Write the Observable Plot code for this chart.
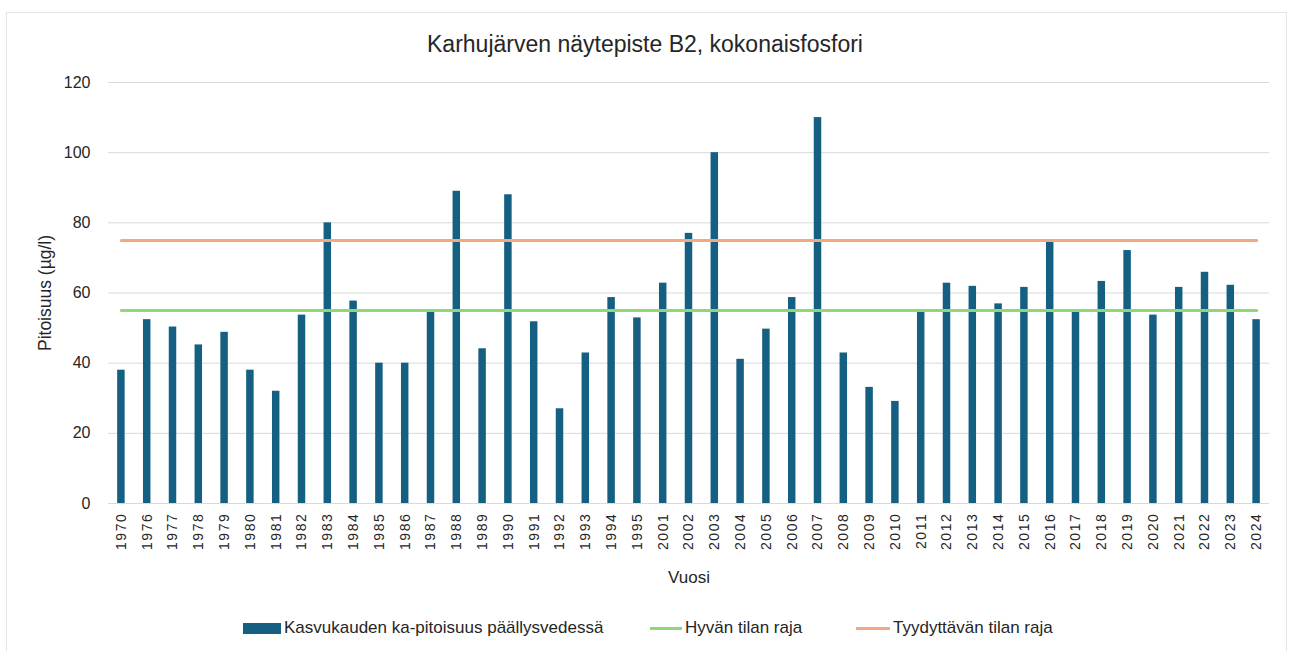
<!DOCTYPE html>
<html>
<head>
<meta charset="utf-8">
<script src="https://cdn.jsdelivr.net/npm/d3@7"></script>
<script src="https://cdn.jsdelivr.net/npm/@observablehq/plot@0.6"></script>
<style>
  html, body { margin: 0; padding: 0; background: #fff; }
  #wrap { position: relative; width: 1290px; height: 651px; overflow: hidden; font-family: "Liberation Sans", Arial, sans-serif; }
  #frame { position: absolute; left: 6px; top: 12px; width: 1281px; height: 660px; border: 1px solid #e6e6e6; box-sizing: border-box; }
  #title { position: absolute; left: 0; width: 1290px; top: 31px; text-align: center; font-size: 23px; color: #262626; }
  #chart { position: absolute; left: 0; top: 65px; }
  #legend { position: absolute; top: 618px; left: 0; width: 1290px; height: 20px; font-family: "Liberation Sans", Arial, sans-serif; font-size: 17px; color: #262626; }
  .item { position: absolute; top: 0; display: flex; align-items: center; height: 20px; white-space: nowrap; }
  .sw { display: inline-block; margin-right: 3px; }
  #chart svg [aria-label="x-axis tick label"] text { letter-spacing: 1.6px; }
</style>
</head>
<body>
<div id="wrap">
  <div id="frame"></div>
  <div id="title"></div>
  <div id="chart"></div>
  <div id="legend"></div>
</div>
<script>
const titleText = "Karhujärven näytepiste B2, kokonaisfosfori";
const yLabel = "Pitoisuus (µg/l)";
const xLabel = "Vuosi";
const years = ["1970","1976","1977","1978","1979","1980","1981","1982","1983","1984","1985","1986","1987","1988","1989","1990","1991","1992","1993","1994","1995","2001","2002","2003","2004","2005","2006","2007","2008","2009","2010","2011","2012","2013","2014","2015","2016","2017","2018","2019","2020","2021","2022","2023","2024"];
const values = [38,52.4,50.3,45.2,48.8,38,32,53.7,80,57.7,40,40,54.8,89,44.1,88,51.8,27,42.9,58.7,52.9,62.8,77,100,41.1,49.7,58.7,110,42.9,33.1,29.1,54.8,62.8,61.9,56.9,61.6,74.4,54.8,63.3,72.1,53.7,61.6,65.9,62.2,52.4];
const goodLimit = 55;
const satisfactoryLimit = 75;
const seriesNames = ["Kasvukauden ka-pitoisuus päällysvedessä", "Hyvän tilan raja", "Tyydyttävän tilan raja"];
const colors = ["#156082", "#8ED973", "#F1A983"];
const yTicks = [0,20,40,60,80,100,120];

document.getElementById("title").textContent = titleText;

const bars = years.map((y, i) => ({year: y, value: values[i]}));
const good = years.map(y => ({year: y, value: goodLimit}));
const sat = years.map(y => ({year: y, value: satisfactoryLimit}));

const chart = Plot.plot({
  width: 1290,
  height: 525,
  marginTop: 17,
  marginBottom: 87,
  marginLeft: 108,
  marginRight: 21,
  style: {fontFamily: "'Liberation Sans', Arial, sans-serif", color: "#262626", background: "transparent"},
  x: {type: "band", domain: years, paddingInner: 0.71, paddingOuter: 0.355},
  y: {domain: [0, 120]},
  marks: [
    Plot.gridY(yTicks, {stroke: "#d9d9d9", strokeOpacity: 1, strokeWidth: 1}),
    Plot.axisY(yTicks, {tickSize: 0, tickPadding: 18, fontSize: 16, label: yLabel, labelAnchor: "center", labelOffset: 70, labelArrow: "none"}),
    Plot.axisX({tickSize: 0, tickPadding: 9, tickRotate: -90, fontSize: 14, label: xLabel, labelAnchor: "center", labelOffset: 79, labelArrow: "none"}),
    Plot.barY(bars, {x: "year", y: "value", fill: colors[0]}),
    Plot.line(good, {x: "year", y: "value", stroke: colors[1], strokeWidth: 3}),
    Plot.line(sat, {x: "year", y: "value", stroke: colors[2], strokeWidth: 3})
  ]
});
document.getElementById("chart").appendChild(chart);

chart.querySelectorAll('[aria-label="y-axis label"] text').forEach(t => { t.style.fontSize = "17.5px"; });
chart.querySelectorAll('[aria-label="x-axis label"] text').forEach(t => { t.style.fontSize = "17px"; });

const legend = document.getElementById("legend");
const items = [
  {x: 243, name: seriesNames[0], sw: `<span class="sw" style="width:38px;height:11px;background:${colors[0]}"></span>`},
  {x: 650, name: seriesNames[1], sw: `<span class="sw" style="width:32px;height:3px;background:${colors[1]}"></span>`},
  {x: 856, name: seriesNames[2], sw: `<span class="sw" style="width:34px;height:3px;background:${colors[2]}"></span>`}
];
items.forEach(it => {
  const d = document.createElement("div");
  d.className = "item";
  d.style.left = it.x + "px";
  d.innerHTML = it.sw + `<span>${it.name}</span>`;
  legend.appendChild(d);
});
</script>
</body>
</html>
